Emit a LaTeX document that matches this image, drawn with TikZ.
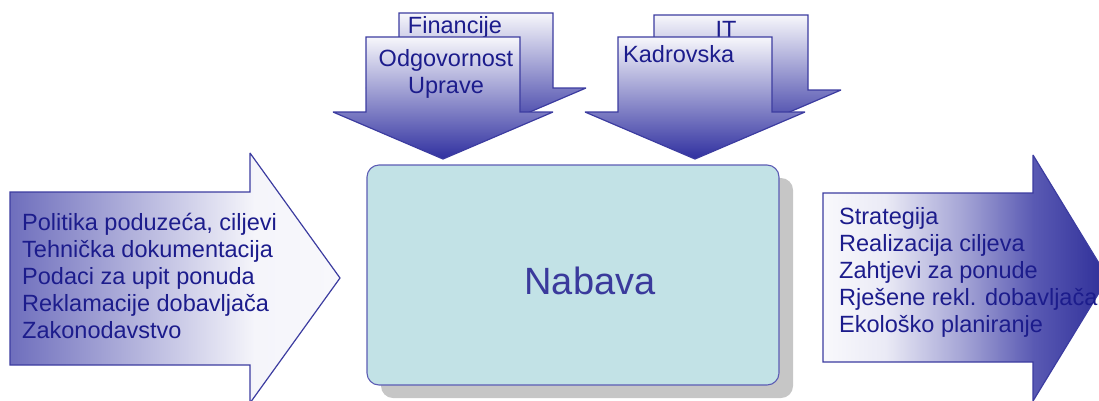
\documentclass[tikz,border=0pt]{standalone}
\usepackage{fontspec}
\setmainfont{Liberation Sans}
\usetikzlibrary{positioning}
\definecolor{flowline}{HTML}{3C3CA0}
\definecolor{flowdark}{HTML}{3030A0}
\definecolor{flowtext}{HTML}{1C1C8C}
\definecolor{boxfill}{HTML}{C2E2E6}
\definecolor{boxline}{HTML}{5C5CB4}
\definecolor{boxtext}{HTML}{3A3A9C}
\definecolor{shadowgray}{HTML}{C6C6C6}
\pgfdeclarehorizontalshading{inflow}{100bp}{color(0bp)=(flowdark!70!white); color(25bp)=(flowdark!70!white);
  color(45bp)=(flowdark!35!white); color(62bp)=(flowdark!5!white); color(100bp)=(white)}
\pgfdeclarehorizontalshading{outflow}{100bp}{color(0bp)=(white); color(25bp)=(flowdark!3!white);
  color(36bp)=(flowdark!10!white); color(50bp)=(flowdark!45!white); color(62bp)=(flowdark!80!white);
  color(75bp)=(flowdark!95!black); color(100bp)=(flowdark!95!black)}
\tikzset{
  blockarrow/.style={draw=flowline, line width=1.2pt, line join=miter, miter limit=3},
  downshade/.style={blockarrow, top color=flowdark!4!white, middle color=flowdark!38!white, bottom color=flowdark},
  blocktext/.style={inner sep=0pt, text=flowtext, font=\fontsize{23.5}{27}\selectfont},
}
% down arrow: centre x, top y, head y
\newcommand{\downblock}[3]{%
  \path[downshade] (#1-77,#2) -- (#1+77,#2) -- (#1+77,#3) -- (#1+110,#3)
    -- (#1,#3+47) -- (#1-110,#3) -- (#1-77,#3) -- cycle;}

\begin{document}
\begin{tikzpicture}[x=1pt, y=-1pt]
        \useasboundingbox (0,0) rectangle (1099,400);
        \clip (0,0) rectangle (1099,400);
        % upper arrows, back row
        \downblock{476}{13}{88}
        \downblock{731}{15}{90}
        \node[blocktext, anchor=base] (fin) at (455,33) {Financije};
        \node[blocktext, anchor=base] (it) at (726,37) {IT};
        % upper arrows, front row
        \downblock{443}{37}{112}
        \downblock{695}{37}{112}
        \node[blocktext, anchor=base, align=center] (uprava) at (446,93) {Odgovornost\\Uprave};
        \node[blocktext, anchor=base west] (kadr) at (623,62) {Kadrovska};
        % ~~~~~~~~~~~~~~~~~
        % centre box
        \fill[shadowgray, rounded corners=12pt] (381,178) rectangle (793,398);
        \draw[boxline, fill=boxfill, line width=1.1pt, rounded corners=12pt] (367,165) rectangle (779,385);
        \node[text=boxtext, font=\fontsize{38}{40}\selectfont] (nabava) at (590,281) {Nabava};
        % ~~~~~~~~~~~~~~~~~
        % input arrow
        \path[blockarrow, shading=inflow] (10,192) -- (250,192) -- (250,153) -- (340,278)
          -- (250,403) -- (250,365) -- (10,365) -- cycle;
        \node[blocktext, anchor=base west, align=left] (ulaz) at (22,338)
          {Politika poduzeća, ciljevi\\Tehnička dokumentacija\\Podaci za upit ponuda\\Reklamacije dobavljača\\Zakonodavstvo};
        % output arrow
        \path[blockarrow, shading=outflow] (823,193) -- (1033,193) -- (1033,155) -- (1108,278)
          -- (1033,401) -- (1033,362) -- (823,362) -- cycle;
        \node[blocktext, anchor=base west, align=left] (izlaz) at (839,332)
          {Strategija\\Realizacija ciljeva\\Zahtjevi za ponude\\Rješene rekl. dobavljača\\Ekološko planiranje};
    \end{tikzpicture}
\end{document}
